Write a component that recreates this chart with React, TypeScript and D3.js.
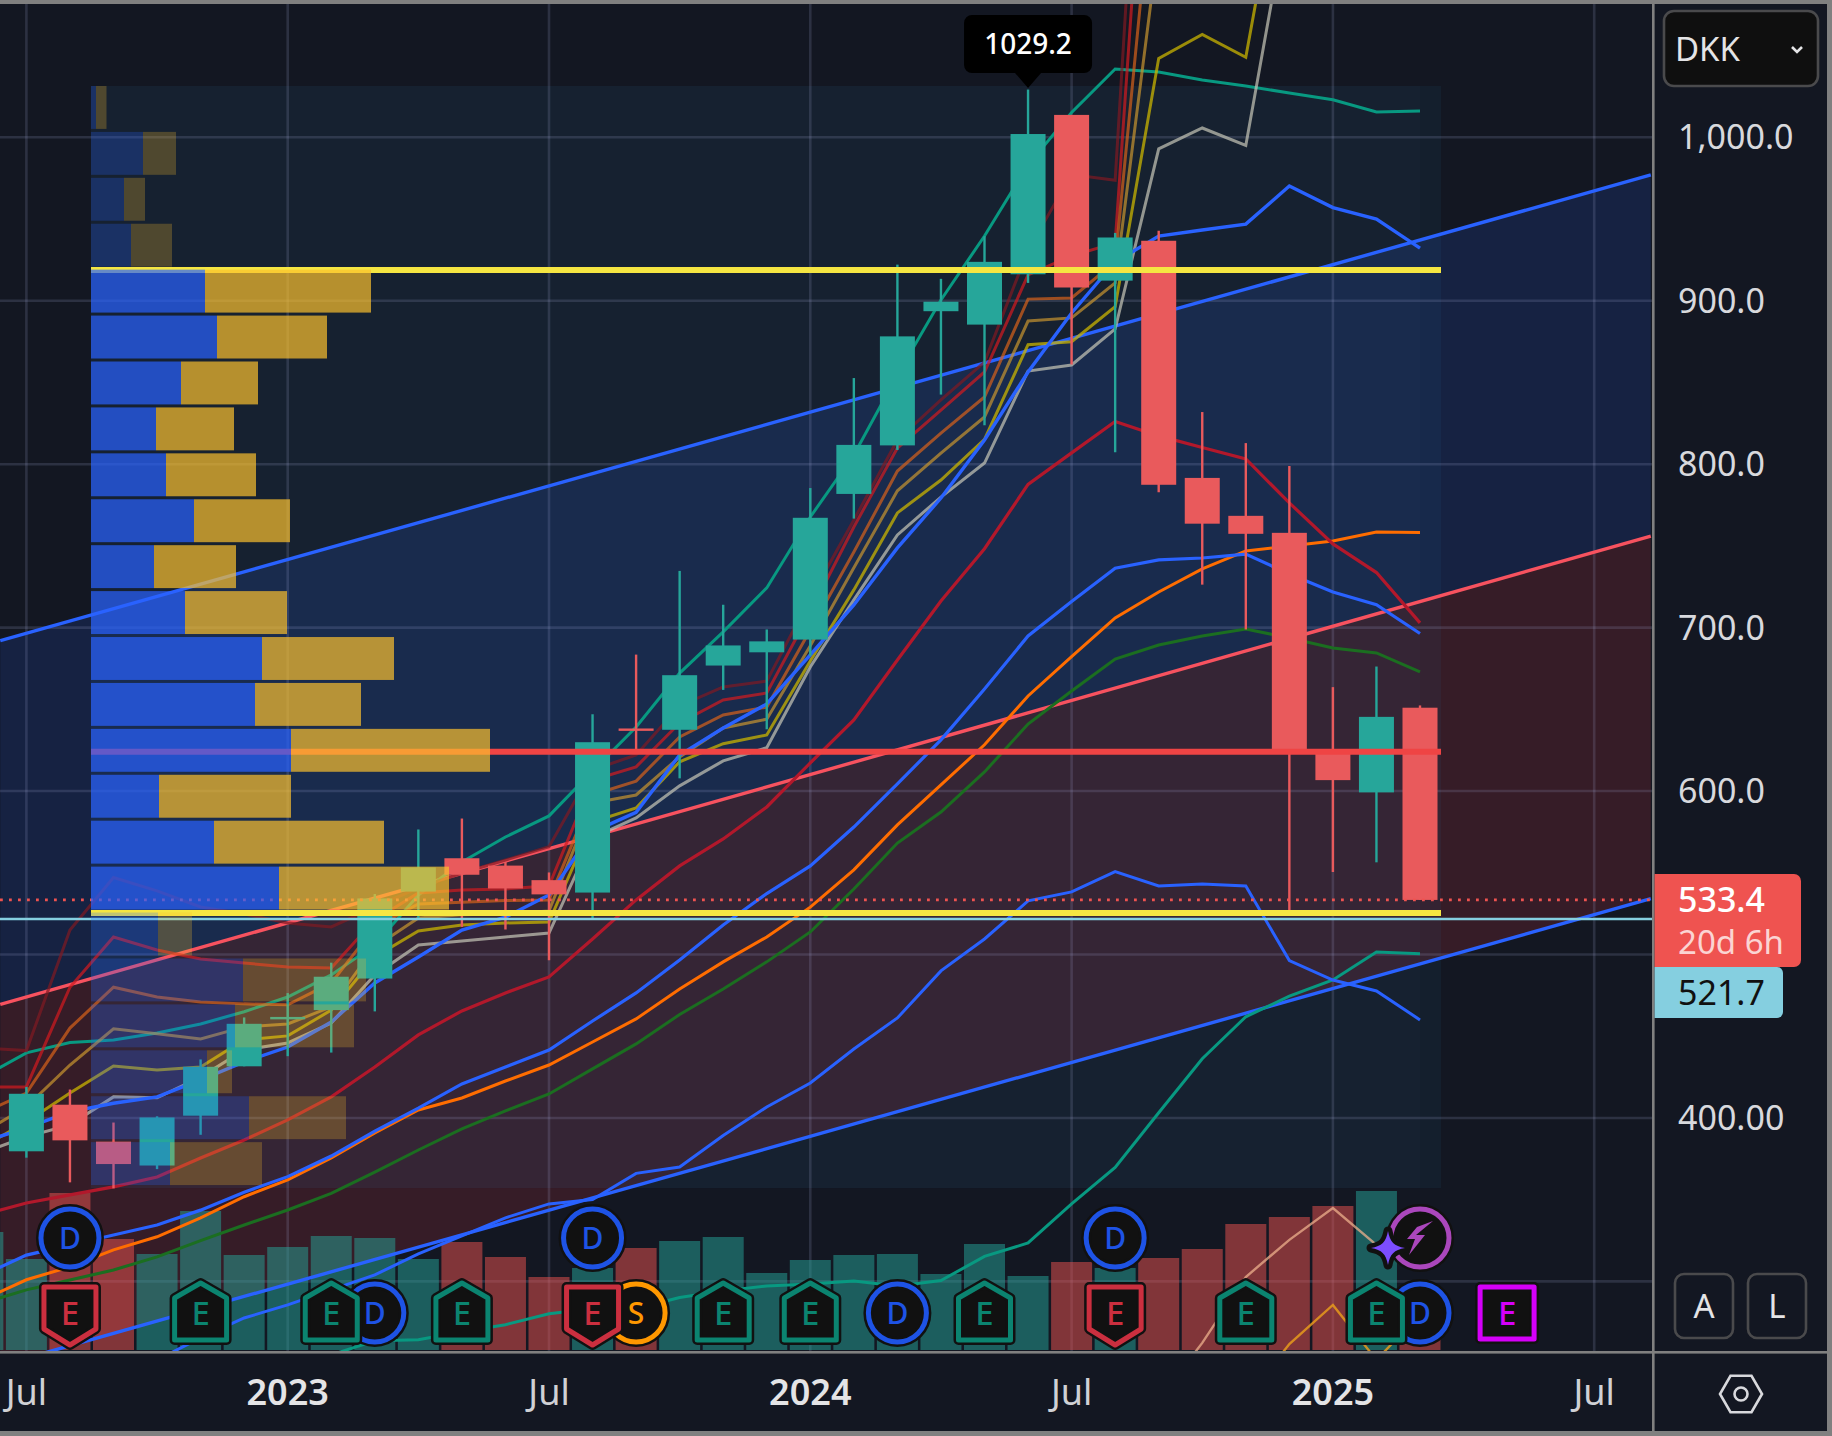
import React, { useEffect, useRef } from 'react';
import * as d3 from 'd3';

// monthly candles, index 0 = Jul 2022, index 32 = Mar 2025
const opens = [379.6, 408.1, 385.5, 370.9, 401.4, 431.6, 460.7, 466, 485.3, 538.5, 558.9, 554.4, 545.5, 537.9, 638.3, 637.5, 676.8, 684.9, 692.7, 781.8, 811.5, 893.6, 885.4, 916.2, 1013.7, 912.3, 936.7, 791.6, 768.4, 758, 625.7, 599.2, 651];
const highs = [419, 417.4, 397.2, 401, 435.8, 461.5, 476.4, 495, 537, 576.5, 583.2, 556.6, 550.2, 647, 683.5, 734.7, 714, 698.9, 785.4, 852.7, 922.1, 913.4, 939.5, 1029.2, 1013.7, 941.5, 942.9, 831.9, 812.9, 798.9, 663.6, 676.2, 652.4];
const lows = [375.7, 360.6, 356.9, 368.7, 389.7, 431.6, 437.8, 440, 465.2, 521.7, 516.9, 515.3, 496.5, 521.7, 625, 607.8, 661.9, 637.8, 682.7, 766.7, 808.7, 842.6, 823.8, 910.9, 861, 807.3, 782.9, 726.3, 698.9, 527.3, 550.5, 556.4, 533.4];
const closes = [414.8, 386.3, 371.8, 400.3, 431.3, 457.6, 461.8, 486.4, 534.3, 553.3, 548.8, 540.4, 536.8, 629.9, 637.5, 670.9, 689.1, 691.6, 767.2, 811.8, 878.2, 899.4, 923.8, 1002, 908.1, 938.7, 787.4, 763.6, 757.4, 625.7, 606.7, 645.4, 533.4];

// volume bars, index 0 = Jun 2022
const volumes = [118, 91, 157, 111, 96, 139, 95, 103, 114, 112, 91, 108, 93, 73, 82, 102, 109, 113, 77, 90, 95, 96, 76, 106, 74, 88, 82, 92, 101, 126, 133, 144, 159, 30];

// moving averages; all start at Jun 2022 unless noted
const maMaroon = [442.8, 441.2, 515, 547.1, 538.9, 529.1, 524.8, 519.3, 516.9, 529, 540.8, 549.9, 557.8, 566, 612.9, 622.1, 652.1, 663.7, 667.3, 718.1, 765.9, 814.8, 839.3, 862.5, 931, 977.2, 973.7, 1408];
const maRed = [419, 419, 480, 510.7, 502.8, 497.3, 494.8, 492.4, 491.8, 521.2, 537.7, 539.5, 540.1, 542, 606.8, 614.8, 641.7, 655.7, 660, 709.6, 761.6, 809.9, 833.1, 856.4, 915.8, 927.4, 935.4, 1320];
const maBrown = [403, 415.2, 455, 480, 474, 471, 469.8, 469.2, 482.6, 516.8, 530.9, 532, 533, 533.4, 597.7, 606.1, 633.1, 646.6, 651.4, 698.6, 746.3, 795.8, 819, 841.1, 901, 901.7, 923.7, 1196.7];
const maTan = [390.9, 406.8, 432.4, 454.5, 451.5, 448.3, 455.7, 457.5, 468, 504.6, 522.4, 524.3, 524.9, 526.7, 592.7, 597.6, 620.9, 638.6, 644, 688.9, 736.6, 783.7, 806.8, 828.9, 887.6, 889.5, 910.9, 1120];
const maYellow = [382.3, 397.6, 415.3, 431.8, 429.4, 431.2, 447.8, 450.2, 466, 498.5, 514.4, 518.1, 519.3, 519.9, 581.1, 589.7, 617.9, 629, 634.3, 679.6, 723.1, 770.2, 790.3, 815.2, 873.1, 874.9, 896.4, 1048.3, 1063, 1049, 1195];
const maGray = [378.7, 388.5, 395.8, 412.9, 412.3, 425, 441.6, 445.9, 458.1, 487.5, 505.8, 508.3, 510.7, 513.1, 571.3, 583.6, 603.2, 618.5, 626.5, 675.9, 717, 756.7, 779.9, 800.7, 857, 860.7, 882.7, 992.9, 1005.7, 995, 1143.4];
const maTeal = [425.1, 439.8, 446.1, 447.7, 452, 457.5, 465, 474, 487.5, 505.9, 536.4, 556.6, 571.9, 584.8, 612.3, 639.2, 672.2, 697.4, 724.3, 767.7, 805.6, 854.6, 900.5, 939.6, 983, 1015.2, 1041.8, 1040, 1035, 1031.4, 1027.1, 1023, 1015.5, 1016.1];
const maBlue = [385.4, 393.9, 403.7, 409, 412.9, 423.2, 434.3, 443.4, 458.7, 482.6, 498.5, 515, 522.9, 536.4, 575, 587, 622.1, 638.6, 653.3, 683.3, 713.9, 748.8, 779.3, 814.8, 856.4, 892.5, 923.7, 939.6, 943.3, 946.9, 970.2, 957, 950, 932.2];
const maDeepRed = [340.7, 348, 352.9, 357.8, 363.9, 375.5, 386.5, 398.8, 412.9, 431.2, 450.8, 465.5, 476.5, 486.3, 509.5, 533.4, 554.2, 570.7, 590.3, 617.2, 643.5, 680.2, 716.3, 748.3, 787.6, 806.9, 826.1, 817.3, 810.2, 803.2, 776.3, 751.2, 733.7, 702.9];
const maBlue2 = [303.9, 316.1, 322.2, 328.4, 334.5, 343.6, 354.6, 364.1, 376.7, 392, 406, 420.8, 431.2, 441.6, 459.3, 476.5, 496.7, 518.1, 537.3, 554.2, 578, 604.4, 631.3, 662.5, 694.9, 716, 736.3, 741.4, 742.6, 745, 732.8, 721.8, 714, 696.4];
const maOrange = [288.8, 301, 308.9, 319.3, 327.3, 338.9, 351.8, 362.1, 375.5, 390.8, 404.9, 412.2, 422.6, 432.4, 446.5, 460.6, 478.9, 495.5, 510.7, 529, 551.8, 579.3, 603.8, 628.3, 658.2, 682.3, 705.9, 721.8, 735.9, 746.9, 750, 753, 758.5, 758.2];
const maGreen = [286.8, 294.8, 300.9, 307, 315, 324.9, 334.5, 343.7, 353.8, 366.9, 380.4, 393.3, 404.3, 414.7, 430, 445.3, 463.3, 478.9, 495.5, 513.8, 540.1, 568.2, 587.2, 611.7, 641, 661.2, 680.8, 689.4, 694.9, 699.2, 693.7, 687.5, 684.5, 673];
const maLowBlue = [252, 265.4, 277.6, 285.6, 294.8, 304, 316.8, 327.8, 338.9, 347.4, 350.1, 366.1, 370, 389.3, 406.7, 421.4, 442.2, 461.2, 490, 509.5, 532.8, 538.3, 550.7, 541.9, 543.1, 541.9, 496.3, 484.4, 477.7, 460]; // from Oct 2022
const maLowTeal = [255, 263.7, 264.3, 269.2, 273.5, 280.2, 283.3, 283.3, 290.1, 294.2, 297.2, 298.4, 300.3, 297.2, 300.5, 315.3, 323.5, 347.4, 369.7, 403.2, 436.2, 461.9, 474.5, 484.4, 501.5, 500.4]; // from Feb 2023
const maPale = [227.5, 262.4, 302.7, 325.4, 344.9, 322.3, 311.9]; // from Sep 2024
const maGold = [227.5, 261.7, 285.6, 251.9, 280]; // from Nov 2024

// channel: [month index, price]
const channelUpper = [[-0.6, 692], [37.3, 977]];
const channelMiddle = [[-0.6, 469.5], [37.3, 756]];
const channelLower = [[-0.6, 248.6], [37.3, 534.2]];

// volume profile rows, top row first
const profileBuy = [5, 52, 33, 40, 114, 126, 90, 65, 75, 103, 63, 94, 171, 164, 200, 68, 123, 188, 67, 152, 144, 116, 158, 79];
const profileSell = [10.5, 33, 21, 41, 166, 110, 77, 78, 90, 96, 82, 102, 132, 106, 199, 132, 170, 170, 34, 123, 119, 25, 97, 92];
const profileHigh = 1031.4;
const profileLow = 357.1;
const valueAreaHigh = 918.8;
const valueAreaLow = 525.4;
const pointOfControl = 624;

const lastPrice = 533.4;
const markPrice = 521.7;
const peakPrice = 1029.2;

const priceGrid = [1000, 900, 800, 700, 600, 500, 400, 300];
const priceTicks: [number, string][] = [[1000, '1,000.0'], [900, '900.0'], [800, '800.0'], [700, '700.0'], [600, '600.0'], [400, '400.00']];
const timeTicks: [number, string, boolean][] = [[0, 'Jul', false], [6, '2023', true], [12, 'Jul', false], [18, '2024', true], [24, 'Jul', false], [30, '2025', true], [36, 'Jul', false]];

const dividendsTop = [1, 13, 25];
const dividendsBottom = [8, 20, 32];
const splitsBottom = [14];
const earningsBeat = [4, 7, 10, 16, 18, 22, 28, 31];
const earningsMiss = [1, 13, 25];
const earningsNext = [34];

const W = 1832;
const H = 1436;
const FONT = '"Noto Sans", sans-serif';

const App = () => {
  const ref = useRef<SVGSVGElement | null>(null);

  useEffect(() => {
    const svg = d3.select(ref.current);
    svg.selectAll('*').remove();

    const paneR = 1652;
    const paneB = 1351;
    const zoneL = 91;
    const zoneR = 1441;

    const x = d3.scaleLinear().domain([0, 32]).range([26.4, 1420]);
    const y = d3.scaleLinear().domain([300, 1000]).range([1281.4, 137.3]);
    const yVol = d3.scaleLinear().domain([0, 160]).range([1350, 1190]);
    const xProfile = d3.scaleLinear().domain([0, 400]).range([zoneL, zoneL + 400]);

    svg.append('rect').attr('width', W).attr('height', H).attr('fill', '#131722');

    svg.append('defs').append('clipPath').attr('id', 'pane')
      .append('rect').attr('x', 0).attr('y', 4).attr('width', paneR).attr('height', paneB - 4);

    const pane = svg.append('g').attr('clip-path', 'url(#pane)');

    // channel fills
    const poly = (a: number[][], b: number[][]) =>
      [...a, ...[...b].reverse()].map((d) => `${x(d[0])},${y(d[1])}`).join(' ');
    pane.append('polygon').attr('points', poly(channelUpper, channelMiddle)).attr('fill', '#2962ff').attr('fill-opacity', 0.15);
    pane.append('polygon').attr('points', poly(channelMiddle, channelLower)).attr('fill', '#f23645').attr('fill-opacity', 0.16);

    // profile zone tint
    pane.append('rect').attr('x', zoneL).attr('y', y(profileHigh)).attr('width', zoneR - zoneL)
      .attr('height', y(profileLow) - y(profileHigh)).attr('fill', '#2c87b8').attr('fill-opacity', 0.075);
    pane.append('rect').attr('x', zoneL).attr('y', y(profileHigh)).attr('width', x(32) - zoneL)
      .attr('height', y(profileLow) - y(profileHigh)).attr('fill', '#8090c0').attr('fill-opacity', 0.018);

    // grid
    pane.selectAll('.gy').data(priceGrid).join('line')
      .attr('x1', 0).attr('x2', paneR).attr('y1', (d) => y(d)).attr('y2', (d) => y(d))
      .attr('stroke', '#aab4e0').attr('stroke-opacity', 0.17).attr('stroke-width', 2.6);
    pane.selectAll('.gx').data(timeTicks).join('line')
      .attr('x1', (d) => x(d[0])).attr('x2', (d) => x(d[0])).attr('y1', 0).attr('y2', paneB)
      .attr('stroke', '#aab4e0').attr('stroke-opacity', 0.17).attr('stroke-width', 2.6);

    // volume
    pane.selectAll('.vol').data(volumes).join('rect')
      .attr('x', (_, i) => x(i - 1) - 20.5).attr('width', 41)
      .attr('y', (d) => yVol(d)).attr('height', (d) => yVol(0) - yVol(d))
      .attr('fill', (_, i) => {
        const m = i - 1;
        return m < 0 || closes[m] >= opens[m] ? '#26a69a' : '#ef5350';
      })
      .attr('fill-opacity', 0.5);

    // channel edges
    const edge = d3.line<number[]>().x((d) => x(d[0])).y((d) => y(d[1]));
    pane.append('path').attr('d', edge(channelUpper)).attr('fill', 'none').attr('stroke', '#2962ff').attr('stroke-width', 3.4);
    pane.append('path').attr('d', edge(channelMiddle)).attr('fill', 'none').attr('stroke', '#f7525f').attr('stroke-width', 3.4);
    pane.append('path').attr('d', edge(channelLower)).attr('fill', 'none').attr('stroke', '#2962ff').attr('stroke-width', 3.4);

    // moving averages
    const maLines: [number[], number, string, number, number][] = [
      [maPale, 26, '#eeb08c', 2.4, 0.75],
      [maGold, 28, '#e69a1c', 2.4, 0.85],
      [maLowTeal, 7, '#089981', 3, 1],
      [maLowBlue, 3, '#2962ff', 3, 1],
      [maGreen, -1, '#1b6e20', 3, 1],
      [maOrange, -1, '#ff6d00', 3, 1],
      [maBlue2, -1, '#2962ff', 3.2, 1],
      [maDeepRed, -1, '#b2182b', 3.2, 1],
      [maTeal, -1, '#089981', 3, 1],
      [maMaroon, -1, '#801922', 3, 0.7],
      [maRed, -1, '#d01a20', 3, 0.72],
      [maBrown, -1, '#d9621a', 3, 0.7],
      [maTan, -1, '#c9962f', 3, 0.7],
      [maYellow, -1, '#c9b400', 3, 0.75],
      [maGray, -1, '#c4c3b6', 3, 0.72],
      [maBlue, -1, '#2962ff', 3.4, 1],
    ];
    maLines.forEach(([values, start, color, width, alpha]) => {
      const gen = d3.line<number>().x((_, i) => x(i + start)).y((d) => y(d));
      pane.append('path').attr('d', gen(values)).attr('fill', 'none')
        .attr('stroke', color).attr('stroke-width', width).attr('stroke-opacity', alpha);
    });

    // candles
    const up = (i: number) => closes[i] >= opens[i];
    const candleColor = (i: number) => (up(i) ? '#26a69a' : '#e95a5c');
    const idx = d3.range(opens.length);
    pane.selectAll('.wick').data(idx).join('line')
      .attr('x1', (i) => x(i)).attr('x2', (i) => x(i))
      .attr('y1', (i) => y(highs[i])).attr('y2', (i) => y(lows[i]))
      .attr('stroke', candleColor).attr('stroke-width', 2.4);
    pane.selectAll('.body').data(idx).join('rect')
      .attr('x', (i) => x(i) - 17.5).attr('width', 35)
      .attr('y', (i) => y(Math.max(opens[i], closes[i])))
      .attr('height', (i) => Math.max(2.4, Math.abs(y(opens[i]) - y(closes[i]))))
      .attr('fill', candleColor);

    // last price and mark price lines
    pane.append('line').attr('x1', 0).attr('x2', paneR).attr('y1', y(lastPrice)).attr('y2', y(lastPrice))
      .attr('stroke', '#ef5350').attr('stroke-width', 2.6).attr('stroke-dasharray', '2.8 6.2');
    pane.append('line').attr('x1', 0).attr('x2', paneR).attr('y1', y(markPrice)).attr('y2', y(markPrice))
      .attr('stroke', '#85cfe0').attr('stroke-width', 2.4);

    // value area and POC, these sit under the profile rows
    [valueAreaHigh, valueAreaLow].forEach((p) => {
      pane.append('line').attr('x1', zoneL).attr('x2', zoneR).attr('y1', y(p)).attr('y2', y(p))
        .attr('stroke', '#f5e642').attr('stroke-width', 6);
    });
    pane.append('line').attr('x1', zoneL).attr('x2', zoneR).attr('y1', y(pointOfControl)).attr('y2', y(pointOfControl))
      .attr('stroke', '#ef4444').attr('stroke-width', 6);

    // volume profile, over the candles
    const bin = (profileHigh - profileLow) / profileBuy.length;
    const inArea = (i: number) => i >= 4 && i <= 17;
    const rowH = Math.abs(y(profileHigh) - y(profileHigh - bin));
    const rowY = (i: number) => y(profileHigh - bin * i);
    pane.selectAll('.buy').data(profileBuy).join('rect')
      .attr('x', xProfile(0)).attr('y', (_, i) => rowY(i)).attr('height', rowH - 3)
      .attr('width', (d) => xProfile(d) - xProfile(0))
      .attr('fill', '#2962ff').attr('fill-opacity', (_, i) => (inArea(i) ? 0.7 : 0.25));
    pane.selectAll('.sell').data(profileSell).join('rect')
      .attr('x', (_, i) => xProfile(profileBuy[i])).attr('y', (_, i) => rowY(i)).attr('height', rowH - 3)
      .attr('width', (d) => xProfile(d) - xProfile(0))
      .attr('fill', '#fbc02d').attr('fill-opacity', (_, i) => (inArea(i) ? 0.7 : 0.25));

    // markers
    const markers = svg.append('g').attr('font-family', FONT).attr('text-anchor', 'middle');
    const ring = (mx: number, my: number, color: string, label: string) => {
      markers.append('circle').attr('cx', mx).attr('cy', my).attr('r', 29)
        .attr('fill', '#111').attr('stroke', '#111').attr('stroke-width', 10);
      markers.append('circle').attr('cx', mx).attr('cy', my).attr('r', 29)
        .attr('fill', 'none').attr('stroke', color).attr('stroke-width', 5);
      markers.append('text').attr('x', mx).attr('y', my + 11).attr('fill', color)
        .attr('font-size', 30).attr('font-weight', 500).text(label);
    };
    const badge = (mx: number, my: number, d: string, color: string) => {
      const g = markers.append('g').attr('transform', `translate(${mx},${my})`);
      g.append('path').attr('d', d).attr('fill', '#111').attr('stroke', '#111').attr('stroke-width', 10).attr('stroke-linejoin', 'round');
      g.append('path').attr('d', d).attr('fill', 'none').attr('stroke', color).attr('stroke-width', 5).attr('stroke-linejoin', 'round');
      g.append('text').attr('y', 12).attr('fill', color).attr('font-size', 33).attr('font-weight', 500).text('E');
    };
    const HOUSE = 'M-26,27 L-26,-15 L0,-30 L26,-15 L26,27 Z';
    const SHIELD = 'M-26,-26 L26,-26 L26,16 L0,32 L-26,16 Z';
    const BOX = 'M-27,-26 L27,-26 L27,26 L-27,26 Z';

    dividendsTop.forEach((m) => ring(x(m), 1238, '#1e53e5', 'D'));
    dividendsBottom.forEach((m) => ring(x(m), 1313, '#1e53e5', 'D'));
    splitsBottom.forEach((m) => ring(x(m), 1313, '#ff9800', 'S'));
    earningsBeat.forEach((m) => badge(x(m), 1313, HOUSE, '#0b8470'));
    earningsMiss.forEach((m) => badge(x(m), 1313, SHIELD, '#cb2f3f'));
    earningsNext.forEach((m) => badge(x(m), 1313, BOX, '#d500f9'));

    // news bolt and star next to the last candle
    const boltX = x(32);
    markers.append('circle').attr('cx', boltX).attr('cy', 1238).attr('r', 29).attr('fill', '#111').attr('stroke', '#111').attr('stroke-width', 10);
    markers.append('circle').attr('cx', boltX).attr('cy', 1238).attr('r', 29).attr('fill', 'none').attr('stroke', '#ab47bc').attr('stroke-width', 5);
    markers.append('path').attr('transform', `translate(${boltX},1238)`).attr('fill', '#ab47bc')
      .attr('d', 'M13,-17 L-4,-3 L5,-3 L-11,17 L-5,1 L-13,1 L-3,-11 Z');
    const star = 'M0,-17 C2,-6 6,-2 17,0 C6,2 2,6 0,17 C-2,6 -6,2 -17,0 C-6,-2 -2,-6 0,-17 Z';
    markers.append('path').attr('transform', `translate(${boltX - 32},1248)`).attr('d', star)
      .attr('fill', '#7c4dff').attr('stroke', '#111').attr('stroke-width', 9).attr('stroke-linejoin', 'round').attr('paint-order', 'stroke');

    // peak tooltip
    const tipX = x(23);
    svg.append('path').attr('fill', '#000')
      .attr('d', `M${tipX - 56},15 h112 a8,8 0 0 1 8,8 v42 a8,8 0 0 1 -8,8 h-43 l-13,15 l-13,-15 h-43 a8,8 0 0 1 -8,-8 v-42 a8,8 0 0 1 8,-8 Z`);
    svg.append('text').attr('x', tipX).attr('y', 54).attr('text-anchor', 'middle').attr('fill', '#fff')
      .attr('font-family', FONT).attr('font-size', 28).attr('font-weight', 500).text(d3.format('.1f')(peakPrice));

    // frame
    const frame = '#808080';
    svg.append('rect').attr('x', 0).attr('y', 0).attr('width', W).attr('height', 4).attr('fill', frame);
    svg.append('rect').attr('x', 0).attr('y', 1431).attr('width', W).attr('height', 5).attr('fill', frame);
    svg.append('rect').attr('x', 1827).attr('y', 0).attr('width', 5).attr('height', H).attr('fill', frame);
    svg.append('rect').attr('x', 0).attr('y', 1351).attr('width', 1827).attr('height', 2.6).attr('fill', frame);
    svg.append('rect').attr('x', 1652).attr('y', 0).attr('width', 2.6).attr('height', 1431).attr('fill', frame);

    // price axis
    const axis = svg.append('g').attr('font-family', FONT).attr('font-size', 34).attr('fill', '#d8d9dd');
    axis.selectAll('text').data(priceTicks).join('text')
      .attr('x', 1678).attr('y', (d) => y(d[0]) + 12).text((d) => d[1]);

    // price labels
    svg.append('path').attr('fill', '#ef5350').attr('d', 'M1654.6,874 H1794 a7,7 0 0 1 7,7 V960 a7,7 0 0 1 -7,7 H1654.6 Z');
    svg.append('text').attr('x', 1678).attr('y', y(lastPrice) + 12).attr('font-family', FONT).attr('font-size', 34)
      .attr('font-weight', 500).attr('fill', '#fff').text(d3.format('.1f')(lastPrice));
    svg.append('text').attr('x', 1678).attr('y', 954).attr('font-family', FONT).attr('font-size', 33)
      .attr('fill', '#fff').attr('fill-opacity', 0.75).text('20d 6h');
    svg.append('path').attr('fill', '#85cfe0').attr('d', 'M1654.6,967 H1777 a6,6 0 0 1 6,6 V1012 a6,6 0 0 1 -6,6 H1654.6 Z');
    svg.append('text').attr('x', 1678).attr('y', 1005).attr('font-family', FONT).attr('font-size', 34)
      .attr('fill', '#111').text(d3.format('.1f')(markPrice));

    // time axis
    svg.append('g').attr('font-family', FONT).attr('text-anchor', 'middle')
      .selectAll('text').data(timeTicks).join('text')
      .attr('x', (d) => x(d[0])).attr('y', 1405)
      .attr('font-size', 36)
      .attr('fill', (d) => (d[2] ? '#e4e4e6' : '#d0d1d5'))
      .attr('font-weight', (d) => (d[2] ? 600 : 400)).text((d) => d[1]);

    // currency button
    svg.append('rect').attr('x', 1664).attr('y', 11).attr('width', 154).attr('height', 75).attr('rx', 10)
      .attr('fill', '#0f0f0f').attr('stroke', '#4a4a4c').attr('stroke-width', 2.6);
    svg.append('text').attr('x', 1675).attr('y', 61).attr('font-family', FONT).attr('font-size', 33).attr('fill', '#e4e4e6').text('DKK');
    svg.append('path').attr('d', 'M1792,47 l5,5 l5,-5').attr('fill', 'none').attr('stroke', '#e4e4e6').attr('stroke-width', 2.6);

    // A / L buttons
    [['A', 1675], ['L', 1748]].forEach(([label, bx]) => {
      svg.append('rect').attr('x', bx as number).attr('y', 1274).attr('width', 58).attr('height', 64).attr('rx', 9)
        .attr('fill', 'none').attr('stroke', '#4a4a4c').attr('stroke-width', 2.6);
      svg.append('text').attr('x', (bx as number) + 29).attr('y', 1318).attr('text-anchor', 'middle')
        .attr('font-family', FONT).attr('font-size', 33).attr('fill', '#e4e4e6').text(label as string);
    });

    // settings hexagon
    const hex = d3.range(6).map((k) => {
      const a = (Math.PI / 3) * k;
      return [1741 + 21 * Math.cos(a), 1394 + 21 * Math.sin(a)] as [number, number];
    });
    svg.append('path').attr('d', d3.line()(hex) + 'Z').attr('fill', 'none').attr('stroke', '#d8d9dd').attr('stroke-width', 2.6);
    svg.append('circle').attr('cx', 1741).attr('cy', 1394).attr('r', 6.5).attr('fill', 'none').attr('stroke', '#d8d9dd').attr('stroke-width', 2.6);
  }, []);

  return <svg ref={ref} width={W} height={H} style={{ position: 'absolute', left: 0, top: 0, display: 'block' }} />;
};

export default App;
